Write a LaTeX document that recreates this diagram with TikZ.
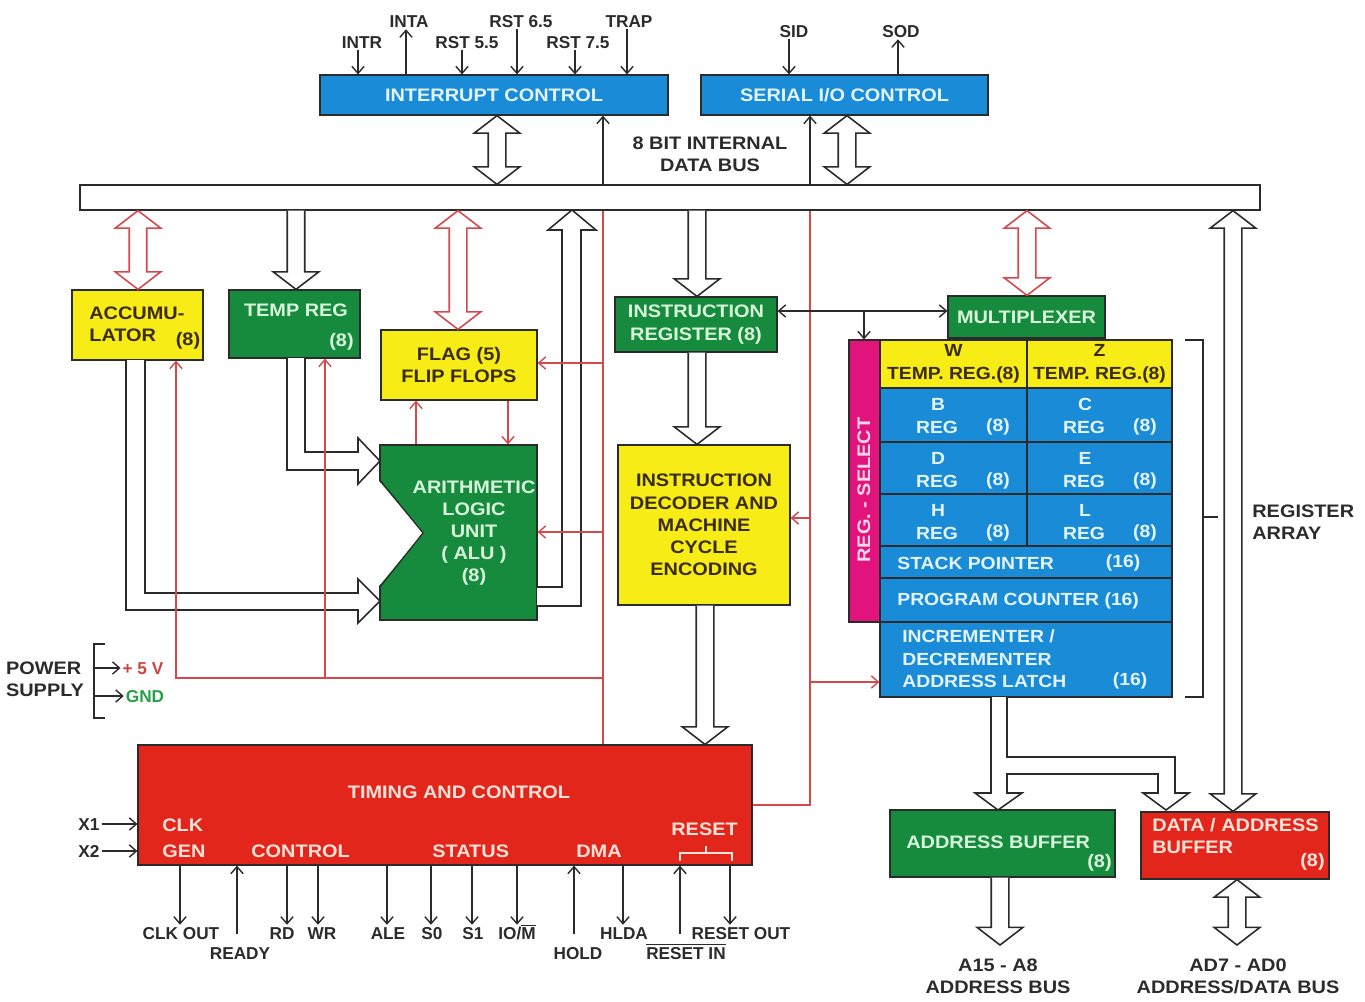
\documentclass[tikz,border=0pt]{standalone}
\usepackage{fontspec}
\setmainfont{Liberation Sans}
\newfontfamily\boxfont[FakeStretch=1.1]{Liberation Sans}
\usetikzlibrary{arrows.meta,calc,fit}
\definecolor{IntBlue}{HTML}{1A8BD6}
\definecolor{RegGreen}{HTML}{178B3D}
\definecolor{AluYellow}{HTML}{F8EC16}
\definecolor{TimeRed}{HTML}{E2261C}
\definecolor{SelMagenta}{HTML}{E0147C}
\definecolor{CtlRed}{HTML}{D5484C}
\definecolor{Ink}{HTML}{2B2B2B}
\definecolor{PaleBlue}{HTML}{E4F4FF}
\definecolor{PaleGreen}{HTML}{D8F5DC}
\definecolor{PaleRed}{HTML}{FFE2D8}
\definecolor{PalePink}{HTML}{FFD6E8}
\definecolor{Umber}{HTML}{3A2C12}
\definecolor{GndGreen}{HTML}{22A04A}
\definecolor{VccRed}{HTML}{C8463E}

\tikzset{
  boxtext/.style={inner sep=0pt,font=\boxfont\bfseries\fontsize{10.3}{12.6}\selectfont,align=center},
  regtext/.style={inner sep=0pt,font=\boxfont\bfseries\fontsize{10}{12.8}\selectfont,align=center},
  blk/.style={draw=Ink,line width=0.7pt,inner sep=0pt},
  bluebox/.style={blk,fill=IntBlue},
  greenbox/.style={blk,fill=RegGreen},
  yellowbox/.style={blk,fill=AluYellow},
  redbox/.style={blk,fill=TimeRed},
  lbl/.style={boxtext,text=Ink},
  pin/.style={inner sep=1pt,font=\bfseries\fontsize{9.8}{11.5}\selectfont,text=Ink,text height=7pt,text depth=0pt},
  sig/.style={draw=Ink,line width=0.8pt},
  ctl/.style={draw=CtlRed,line width=0.8pt},
  hollow/.style={draw=Ink,line width=0.9pt,fill=white,line join=miter},
}

\newcommand\busboth[4][Ink]{%
  \draw[hollow,draw=#1] let \p3=(#2,0), \p1=(#3), \p2=(#4) in
    (\x3,\y1) -- (\x3+13pt,\y1-10pt) -- (\x3+5pt,\y1-10pt) -- (\x3+5pt,\y2+10pt)
    -- (\x3+13pt,\y2+10pt) -- (\x3,\y2) -- (\x3-13pt,\y2+10pt) -- (\x3-5pt,\y2+10pt)
    -- (\x3-5pt,\y1-10pt) -- (\x3-13pt,\y1-10pt) -- cycle;}
\newcommand\busdown[4][Ink]{%
  \draw[hollow,draw=#1] let \p3=(#2,0), \p1=(#3), \p2=(#4) in
    (\x3-5pt,\y1) -- (\x3-5pt,\y2+10pt) -- (\x3-13pt,\y2+10pt) -- (\x3,\y2)
    -- (\x3+13pt,\y2+10pt) -- (\x3+5pt,\y2+10pt) -- (\x3+5pt,\y1);}

\begin{document}
\begin{tikzpicture}[x=0.02cm,y=-0.02cm,>={Straight Barb[length=4pt,width=7pt]}]
\useasboundingbox (0,0) rectangle (1365,1001);

\node[bluebox,fit={(320,75)(668,115)}] (intc) {};
\node[boxtext,text=PaleBlue] at (intc) {INTERRUPT CONTROL};
\node[bluebox,fit={(701,75)(988,115)}] (sioc) {};
\node[boxtext,text=PaleBlue] at (sioc) {SERIAL I/O CONTROL};
\node[blk,fill=white,fit={(80,185)(1260,210)}] (bus) {};
\node[lbl] (buslbl) at (710,154) {8 BIT INTERNAL\\DATA BUS};

\node[yellowbox,fit={(72,290)(203,360)}] (acc) {};
\node[boxtext,text=Umber,anchor=west,align=left] at (89,324) {ACCUMU-\\LATOR};
\node[boxtext,text=Umber] at (188,341) {(8)};
\node[greenbox,fit={(229,290)(360,358)}] (tmp) {};
\node[boxtext,text=PaleGreen] at (296,310) {TEMP REG};
\node[boxtext,text=PaleGreen,anchor=east] at (354,342) {(8)};
\node[yellowbox,fit={(381,330)(537,400)}] (flag) {};
\node[boxtext,text=Umber] at (flag) {FLAG (5)\\FLIP FLOPS};

\node[greenbox,fit={(380,445)(537,620)}] (alu) {};
\fill[white] (378,480) -- (423,533) -- (378,587) -- cycle;
\draw[Ink,line width=0.7pt] (380,480) -- (423,533) -- (380,587);
\node[boxtext,text=PaleGreen] at (474,533) {ARITHMETIC\\LOGIC\\UNIT\\( ALU )\\(8)};

\node[greenbox,fit={(615,297)(777,352)}] (ir) {};
\node[boxtext,text=PaleGreen] at (ir) {INSTRUCTION\\REGISTER (8)};
\node[yellowbox,fit={(618,445)(790,605)}] (idec) {};
\node[boxtext,text=Umber] at (idec) {INSTRUCTION\\DECODER AND\\MACHINE\\CYCLE\\ENCODING};
\node[greenbox,fit={(948,296)(1105,338)}] (mux) {};
\node[boxtext,text=PaleGreen] at (mux) {MULTIPLEXER};

\node[blk,fill=SelMagenta,fit={(849,340)(880,622)}] (rsel) {};
\node[boxtext,text=PalePink,rotate=90] at (864,490) {REG. - SELECT};
\node[yellowbox,fit={(880,340)(1027,388)}] (wreg) {};
\node[regtext,text=Umber] at (wreg) {W\\TEMP. REG.(8)};
\node[yellowbox,fit={(1027,340)(1172,388)}] (zreg) {};
\node[regtext,text=Umber] at (zreg) {Z\\TEMP. REG.(8)};
\foreach \reg/\lab/\cellx/\celly/\cellw/\cellh in {breg/B/880/388/147/54, creg/C/1027/388/145/54,
    dreg/D/880/442/147/52, ereg/E/1027/442/145/52, hreg/H/880/494/147/52, lreg/L/1027/494/145/52}{
  \node[bluebox,fit={(\cellx,\celly)(\cellx+\cellw,\celly+\cellh)}] (\reg) {};
  \node[regtext,text=PaleBlue] at (\cellx+58,\celly+16) {\lab};
  \node[regtext,text=PaleBlue] at (\cellx+57,\celly+39) {REG};
  \node[regtext,text=PaleBlue] at (\cellx+118,\celly+39) {(8)};
}
\node[bluebox,fit={(880,546)(1172,578)}] (sp) {};
\node[regtext,text=PaleBlue,anchor=west] at (897,563) {STACK POINTER};
\node[regtext,text=PaleBlue] at (1123,563) {(16)};
\node[bluebox,fit={(880,578)(1172,622)}] (pc) {};
\node[regtext,text=PaleBlue,anchor=west] at (897,601) {PROGRAM COUNTER (16)};
\node[bluebox,fit={(880,622)(1172,697)}] (incr) {};
\node[regtext,text=PaleBlue,anchor=west,align=left] at (902,659) {INCREMENTER /\\DECREMENTER\\ADDRESS LATCH};
\node[regtext,text=PaleBlue] at (1130,681) {(16)};
\draw[sig] (1185,340) -- (1203,340) -- (1203,697) -- (1185,697) (1203,517) -- (1218,517);
\node[lbl,anchor=west,align=left] (regarr) at (1252,522) {REGISTER\\ARRAY};

\node[redbox,fit={(138,745)(752,865)}] (tc) {};
\node[boxtext,text=PaleRed] at (459,792) {TIMING AND CONTROL};
\node[boxtext,text=PaleRed,anchor=west] at (162,825) {CLK};
\node[boxtext,text=PaleRed,anchor=west] at (162,851) {GEN};
\node[boxtext,text=PaleRed,anchor=west] at (251,851) {CONTROL};
\node[boxtext,text=PaleRed,anchor=west] at (432,851) {STATUS};
\node[boxtext,text=PaleRed,anchor=west] at (576,851) {DMA};
\node[boxtext,text=PaleRed,anchor=west] at (671,829) {RESET};
\draw[PaleRed,line width=0.8pt] (680,861) -- (680,853) -- (732,853) -- (732,861) (706,853) -- (706,846);

\node[greenbox,fit={(890,810)(1115,877)}] (abuf) {};
\node[boxtext,text=PaleGreen,anchor=west] at (906,842) {ADDRESS BUFFER};
\node[boxtext,text=PaleGreen,anchor=east] at (1112,863) {(8)};
\node[redbox,fit={(1141,812)(1329,879)}] (dabuf) {};
\node[boxtext,text=PaleRed,anchor=west,align=left] at (1152,836) {DATA / ADDRESS\\BUFFER};
\node[boxtext,text=PaleRed,anchor=east] at (1325,862) {(8)};
\coordinate (abus) at (1000,945);
\coordinate (adbus) at (1237,945);
\node[lbl] (abuslbl) at (998,976) {A15 - A8\\ADDRESS BUS};
\node[lbl] (adbuslbl) at (1238,976) {AD7 - AD0\\ADDRESS/DATA BUS};

\busboth{497}{intc.south}{bus.north}
\busboth{847}{sioc.south}{bus.north}
\busboth[CtlRed]{138}{bus.south}{acc.north}
\busboth[CtlRed]{458}{bus.south}{flag.north}
\busboth[CtlRed]{1027}{bus.south}{mux.north}
\busdown{296}{bus.south}{tmp.north}
\busdown{697}{bus.south}{ir.north}
\busdown{697}{ir.south}{idec.north}
\busdown{705}{idec.south}{tc.north}
\busdown{1000}{abuf.south}{abus}
\busboth{1237}{dabuf.south}{adbus}
\busboth{1233}{bus.south}{dabuf.north}
\draw[hollow] (126,360) -- (126,610) -- (358,610) -- (358,623) -- (380,601) -- (358,579) -- (358,593) -- (145,593) -- (145,360);
\draw[hollow] (287,358) -- (287,470) -- (358,470) -- (358,484) -- (380,461) -- (358,438) -- (358,452) -- (305,452) -- (305,358);
\draw[hollow] (537,587) -- (562,587) -- (562,230) -- (548,230) -- (572,210) -- (596,230) -- (581,230) -- (581,606) -- (537,606);
\draw[hollow] (991,697) -- (991,793) -- (975,793) -- (998,810) -- (1022,793) -- (1007,793) -- (1007,774) -- (1158,774)
  -- (1158,793) -- (1143,793) -- (1166,810) -- (1189,793) -- (1175,793) -- (1175,757) -- (1007,757) -- (1007,697);

\coordinate (pwrrail) at (603,678);
\draw[ctl,->] (pwrrail) -| (acc.south -| 176,0);
\draw[ctl,->] (pwrrail -| 325,0) -- (tmp.south -| 325,0);
\draw[ctl] (bus.south -| 603,0) -- (tc.north -| 603,0);
\draw[ctl,->] (603,363) -- (flag.east |- 0,363);
\draw[ctl,->] (603,532) -- (alu.east |- 0,532);
\draw[ctl,->] (alu.north -| 416,0) -- (flag.south -| 416,0);
\draw[ctl,->] (flag.south -| 508,0) -- (alu.north -| 508,0);
\draw[ctl] (bus.south -| 810,0) |- (tc.east |- 0,805);
\draw[ctl,->] (810,518) -- (idec.east |- 0,518);
\draw[ctl,->] (810,682) -- (incr.west |- 0,682);

\draw[sig,->] (bus.north -| 603,0) -- (intc.south -| 603,0);
\draw[sig,->] (bus.north -| 810,0) -- (sioc.south -| 810,0);
\draw[sig,<->] (ir.east |- 0,311) -- (mux.west |- 0,311);
\draw[sig,->] (864,311) -- (rsel.north -| 864,0);

\node[pin] (intr) at (362,42) {INTR};
\node[pin] (inta) at (409,21) {INTA};
\node[pin] (rstfive) at (467,42) {RST 5.5};
\node[pin] (rstsix) at (521,21) {RST 6.5};
\node[pin] (rstseven) at (578,42) {RST 7.5};
\node[pin] (trap) at (629,21) {TRAP};
\node[pin] (sid) at (794,31) {SID};
\node[pin] (sod) at (901,31) {SOD};
\draw[sig,->] (intr.south -| 358,0) -- (intc.north -| 358,0);
\draw[sig,->] (intc.north -| 406,0) -- (inta.south -| 406,0);
\draw[sig,->] (rstfive.south -| 462,0) -- (intc.north -| 462,0);
\draw[sig,->] (rstsix.south -| 517,0) -- (intc.north -| 517,0);
\draw[sig,->] (rstseven.south -| 575,0) -- (intc.north -| 575,0);
\draw[sig,->] (trap.south -| 627,0) -- (intc.north -| 627,0);
\draw[sig,->] (sid.south -| 789,0) -- (sioc.north -| 789,0);
\draw[sig,->] (sioc.north -| 898,0) -- (sod.south -| 898,0);

\node[lbl,align=left] (pwr) at (45,679) {POWER\\SUPPLY};
\draw[sig] (105,644) -- (94,644) -- (94,718) -- (105,718);
\node[pin,text=VccRed] (pfive) at (143,668) {+ 5 V};
\node[pin,text=GndGreen] (gnd) at (145,696) {GND};
\draw[sig,->] (94,0 |- pfive.west) -- (pfive.west);
\draw[sig,->] (94,0 |- gnd.west) -- (gnd.west);

\node[pin] (xone) at (89,824) {X1};
\node[pin] (xtwo) at (89,851) {X2};
\draw[sig,->] (xone.east) -- (xone.east -| tc.west);
\draw[sig,->] (xtwo.east) -- (xtwo.east -| tc.west);

\node[pin] (clkout) at (181,933) {CLK OUT};
\node[pin] (rd) at (282,933) {RD};
\node[pin] (wr) at (322,933) {WR};
\node[pin] (ale) at (388,933) {ALE};
\node[pin] (szero) at (432,933) {S0};
\node[pin] (sone) at (473,933) {S1};
\node[pin] (iom) at (517,933) {IO/$\overline{\hbox{M}}$};
\node[pin] (hlda) at (624,933) {HLDA};
\node[pin] (resetout) at (741,933) {RESET OUT};
\node[pin] (ready) at (240,953) {READY};
\node[pin] (hold) at (578,953) {HOLD};
\node[pin] (resetin) at (686,953) {$\overline{\hbox{RESET IN}}$};
\draw[sig,->] (tc.south -| 180,0) -- (clkout.north -| 180,0);
\draw[sig,->] (tc.south -| 287,0) -- (rd.north -| 287,0);
\draw[sig,->] (tc.south -| 318,0) -- (wr.north -| 318,0);
\draw[sig,->] (tc.south -| 387,0) -- (ale.north -| 387,0);
\draw[sig,->] (tc.south -| 431,0) -- (szero.north -| 431,0);
\draw[sig,->] (tc.south -| 472,0) -- (sone.north -| 472,0);
\draw[sig,->] (tc.south -| 517,0) -- (iom.north -| 517,0);
\draw[sig,->] (tc.south -| 623,0) -- (hlda.north -| 623,0);
\draw[sig,->] (tc.south -| 730,0) -- (resetout.north -| 730,0);
\draw[sig,->,shorten <=6pt] (ready.north -| 237,0) -- (tc.south -| 237,0);
\draw[sig,->,shorten <=6pt] (hold.north -| 574,0) -- (tc.south -| 574,0);
\draw[sig,->,shorten <=6pt] (resetin.north -| 680,0) -- (tc.south -| 680,0);
\end{tikzpicture}
\end{document}
